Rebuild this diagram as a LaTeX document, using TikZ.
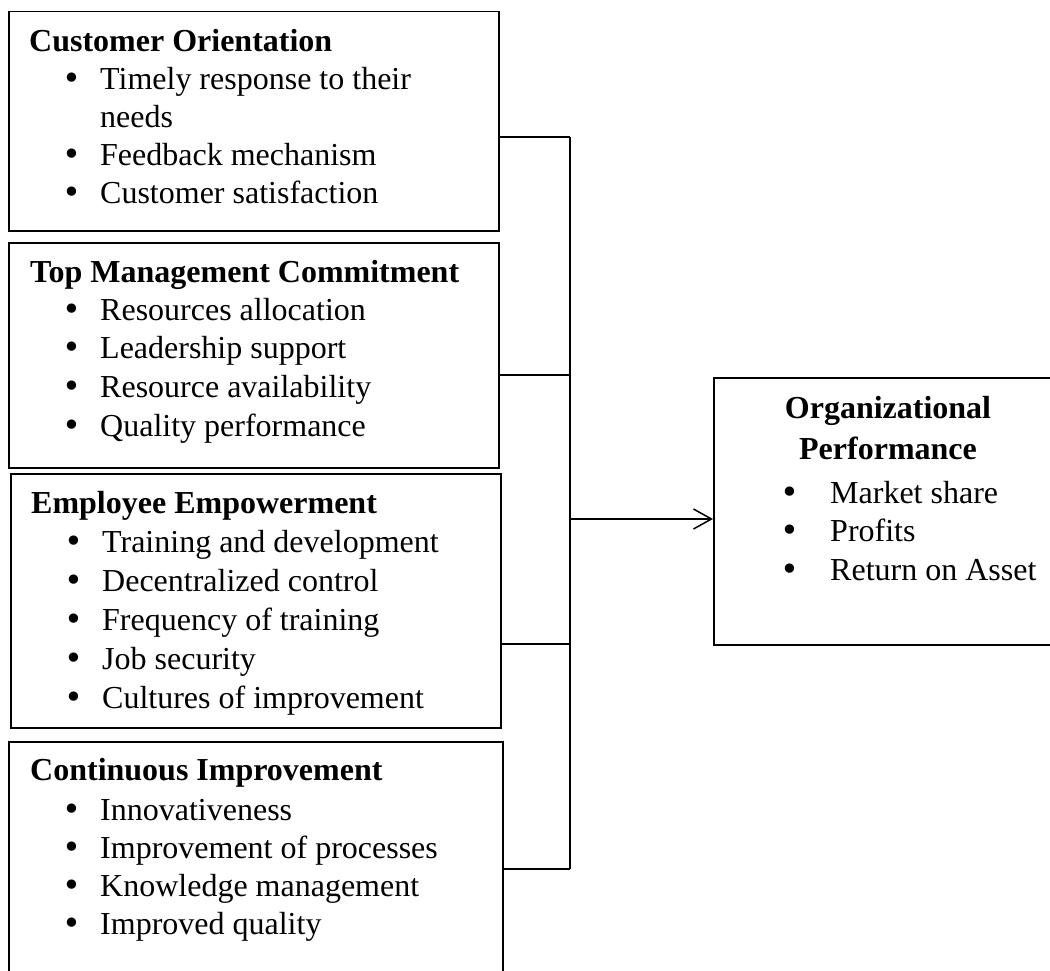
\documentclass[tikz,border=0pt]{standalone}
\usepackage{fontspec}
\setmainfont{Liberation Serif}
\newfontfamily\bulfont{DejaVu Sans}
\usetikzlibrary{arrows.meta}
\newcommand\itemlist[6]{%
  \foreach \t [count=\i] in {#6} {%
    \node[bul] (#1b\i) at ({#2+7},{#4+(\i-1)*#5}) {•};
    \node[txt] (#1t\i) at (#3,{#4+(\i-1)*#5}) {\t};
  }}
\begin{document}
\begin{tikzpicture}[x=1pt,y=-1pt,
  box/.style={draw, line width=1.5pt, anchor=north west, inner sep=0pt},
  txt/.style={anchor=base west, inner sep=0pt, font=\fontsize{32}{38}\selectfont},
  ttl/.style={txt, font=\fontsize{32}{38}\selectfont\bfseries},
  bul/.style={anchor=base, inner sep=0pt, font=\fontsize{32}{38}\selectfont\bulfont},
  link/.style={line width=1.5pt}]
\useasboundingbox (0,0) rectangle (1050,971);
\clip (0,0) rectangle (1050,971);
% boxes
\node[box, minimum width=490pt, minimum height=219pt] (co) at (8,11) {};
\node[box, minimum width=490pt, minimum height=225pt] (tm) at (8,242) {};
\node[box, minimum width=490pt, minimum height=254pt] (ee) at (10,473) {};
\node[box, minimum width=494pt, minimum height=260pt] (ci) at (8,741) {};
\node[box, minimum width=360pt, minimum height=267pt] (op) at (713,377) {};
% box 1
\node[ttl] (coT) at (29,52) {Customer Orientation};
\node[bul] (cob1) at (72,90) {•};
\node[txt] (cot1) at (100,90) {Timely response to their};
\node[txt] (cot1b) at (100,128) {needs};
\node[bul] (cob2) at (72,166) {•};
\node[txt] (cot2) at (100,166) {Feedback mechanism};
\node[bul] (cob3) at (72,204) {•};
\node[txt] (cot3) at (100,204) {Customer satisfaction};
% box 2
\node[ttl] (tmT) at (30,282) {Top Management Commitment};
\itemlist{tm}{65}{100}{320}{38.7}{Resources allocation, Leadership support, Resource availability, Quality performance}
% box 3
\node[ttl] (eeT) at (31,513) {Employee Empowerment};
\itemlist{ee}{67}{102}{552}{39}{Training and development, Decentralized control, Frequency of training, Job security, Cultures of improvement}
% box 4
\node[ttl] (ciT) at (30,780) {Continuous Improvement};
\itemlist{ci}{65}{100}{820}{38.3}{Innovativeness, Improvement of processes, Knowledge management, Improved quality}
% output box
\node[ttl, anchor=base] (opT1) at (888,418) {Organizational};
\node[ttl, anchor=base] (opT2) at (888,459) {Performance};
\itemlist{op}{783}{830}{503}{38.5}{Market share, Profits, Return on Asset}
% connectors
\coordinate (j1) at (570,137);
\coordinate (j2) at (570,375);
\coordinate (j3) at (570,644);
\coordinate (j4) at (570,869);
\coordinate (ja) at (570,519);
\draw[link] (co.east |- j1) -- (j1);
\draw[link] (tm.east |- j2) -- (j2);
\draw[link] (ee.east |- j3) -- (j3);
\draw[link] (ci.east |- j4) -- (j4);
\draw[link] (j1) -- (j4);
\draw[link, -{Straight Barb[length=18pt,width=20pt,line width=1.5pt]}] (ja) -- (op.west |- ja);
\end{tikzpicture}
\end{document}
